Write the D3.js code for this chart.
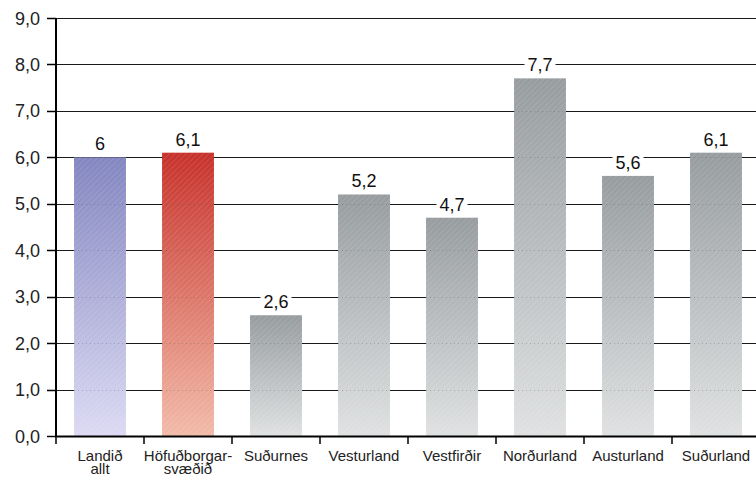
<!DOCTYPE html>
<html><head><meta charset="utf-8">
<script src="https://cdn.jsdelivr.net/npm/d3@7"></script>
<style>body{margin:0;background:#fff}svg{display:block;font-family:"Liberation Sans",Arial,sans-serif}</style>
</head><body><svg id="c" width="756" height="477"></svg>
<script>
const categories = ["Landið allt","Höfuðborgar- svæðið","Suðurnes","Vesturland","Vestfirðir","Norðurland","Austurland","Suðurland"];
const catLines = [["Landið","allt"],["Höfuðborgar-","svæðið"],["Suðurnes"],["Vesturland"],["Vestfirðir"],["Norðurland"],["Austurland"],["Suðurland"]];
const values = [6, 6.1, 2.6, 5.2, 4.7, 7.7, 5.6, 6.1];
const valueLabels = ["6","6,1","2,6","5,2","4,7","7,7","5,6","6,1"];
const yTicks = [0,1,2,3,4,5,6,7,8,9];
const colorKind = ["blue","red","gray","gray","gray","gray","gray","gray"];

const svg = d3.select("#c");
const x0 = 56, x1 = 760, yTop = 18, yBot = 436;
const x = d3.scaleBand().domain(categories).range([x0, x1]).paddingInner(0.41).paddingOuter(0.205);
const xb = d3.scaleBand().domain(categories).range([x0, x1]);
const y = d3.scaleLinear().domain([0, 9]).range([yBot, yTop]);

const defs = svg.append("defs");
const grads = {blue:["#8386c0","#dcdaf3"], red:["#c7322b","#f2bba9"], gray:["#979c9f","#dfe1e2"]};
Object.entries(grads).forEach(([k,[a,b]])=>{
  const g = defs.append("linearGradient").attr("id","g-"+k).attr("x1",0).attr("y1",0).attr("x2",0).attr("y2",1);
  g.append("stop").attr("offset",0).attr("stop-color",a);
  g.append("stop").attr("offset",1).attr("stop-color",b);
});
const pat = defs.append("pattern").attr("id","hatch").attr("width",4).attr("height",4)
  .attr("patternUnits","userSpaceOnUse").attr("patternTransform","rotate(45)");
pat.append("line").attr("x1",0).attr("y1",0).attr("x2",0).attr("y2",4).attr("stroke","#fff").attr("stroke-opacity",0.22).attr("stroke-width",1);

// gridlines
svg.append("g").selectAll("line").data(yTicks.filter(d=>d>0)).join("line")
  .attr("x1",x0).attr("x2",756).attr("y1",d=>Math.round(y(d))+0.5).attr("y2",d=>Math.round(y(d))+0.5)
  .attr("stroke","#1a1a1a").attr("stroke-width",1);

// bars
const bars = svg.append("g");
bars.selectAll("rect.b").data(values).join("rect").attr("class","b")
  .attr("x",(d,i)=>x(categories[i])).attr("width",x.bandwidth())
  .attr("y",d=>y(d)).attr("height",d=>yBot-y(d))
  .attr("fill",(d,i)=>"url(#g-"+colorKind[i]+")");
bars.selectAll("rect.h").data(values).join("rect").attr("class","h")
  .attr("x",(d,i)=>x(categories[i])).attr("width",x.bandwidth())
  .attr("y",d=>y(d)).attr("height",d=>yBot-y(d))
  .attr("fill","url(#hatch)");
values.forEach((v,i)=>{
  yTicks.filter(t=>t>0 && t<v).forEach(t=>{
    bars.append("line").attr("x1",x(categories[i])).attr("x2",x(categories[i])+x.bandwidth())
      .attr("y1",Math.round(y(t))+0.5).attr("y2",Math.round(y(t))+0.5)
      .attr("stroke","#555").attr("stroke-opacity",0.35).attr("stroke-dasharray","1,3");
  });
});

// value labels with white backgrounds
const lab = svg.append("g").attr("font-size",18).attr("fill","#111");
values.forEach((v,i)=>{
  const cx = x(categories[i]) + x.bandwidth()/2;
  const by = y(v) - 7;
  const t = lab.append("text").attr("x",cx).attr("y",by).attr("text-anchor","middle").text(valueLabels[i]);
  const bb = t.node().getBBox();
  lab.insert("rect","text").attr("x",bb.x-3).attr("y",bb.y+3).attr("width",bb.width+6).attr("height",bb.height-6).attr("fill","#fff");
});

// y axis
svg.append("line").attr("x1",x0).attr("x2",x0).attr("y1",yTop).attr("y2",yBot).attr("stroke","#000").attr("stroke-width",2);
const ya = svg.append("g");
ya.selectAll("line").data(yTicks).join("line")
  .attr("x1",47).attr("x2",x0).attr("y1",d=>Math.round(y(d))+0.5).attr("y2",d=>Math.round(y(d))+0.5)
  .attr("stroke","#000").attr("stroke-width",1.5);
ya.selectAll("text").data(yTicks).join("text")
  .attr("x",40).attr("y",d=>y(d)+6.5).attr("text-anchor","end").attr("font-size",18).attr("fill","#222")
  .text(d=>d3.format(".1f")(d).replace(".",","));

// x axis
svg.append("line").attr("x1",x0-1).attr("x2",756).attr("y1",yBot+0.5).attr("y2",yBot+0.5).attr("stroke","#000").attr("stroke-width",2);
svg.append("g").selectAll("line").data(categories).join("line")
  .attr("x1",d=>xb(d)).attr("x2",d=>xb(d)).attr("y1",yBot).attr("y2",yBot+8)
  .attr("stroke","#000").attr("stroke-width",1.5);
const xl = svg.append("g").attr("font-size",15).attr("fill","#222").attr("text-anchor","middle");
catLines.forEach((ls,i)=>{
  const cx = xb(categories[i]) + xb.bandwidth()/2;
  ls.forEach((l,j)=>xl.append("text").attr("x",cx).attr("y",461+j*13).text(l));
});
</script></body></html>
